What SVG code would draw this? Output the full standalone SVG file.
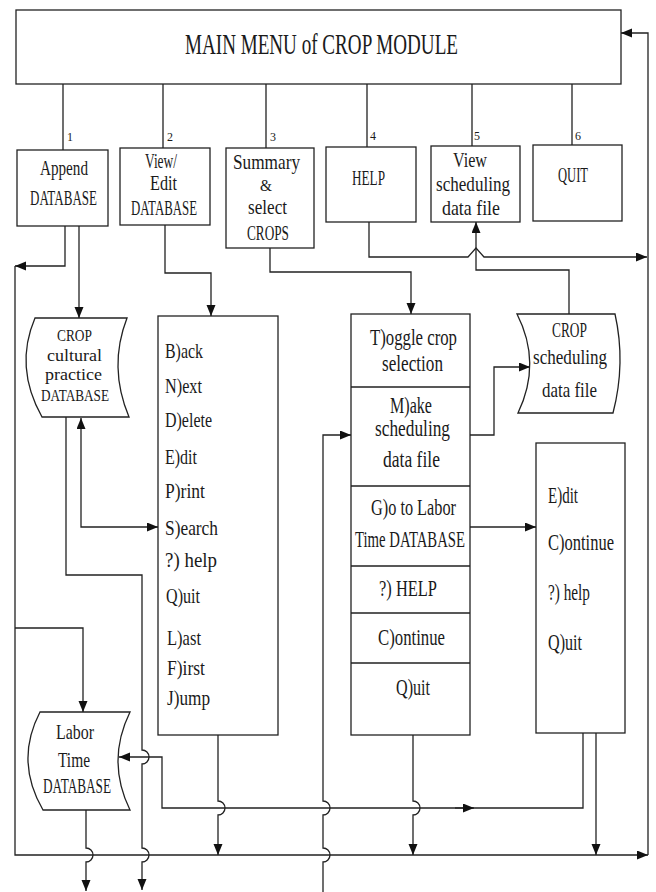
<svg xmlns="http://www.w3.org/2000/svg" width="656" height="892" viewBox="0 0 656 892">
<style>
.bx{fill:none;stroke:#222;stroke-width:1.3}
.ln{fill:none;stroke:#222;stroke-width:1.3}
.t{font-family:"Liberation Serif","Times New Roman",serif;fill:#1a1a1a}
.n{font-family:"Liberation Serif",serif;font-size:12px;fill:#1a1a1a}
.b{font-size:22px}
.e{font-size:20px}
.m{font-size:21px}
.g{font-size:23px}
.d{font-size:21px}
.c{font-size:17.5px}
.a{marker-end:url(#ah)}
</style>
<defs>
<marker id="ah" markerUnits="userSpaceOnUse" markerWidth="12" markerHeight="10" refX="11" refY="4.5" orient="auto-start-reverse" viewBox="0 0 12 10">
<path d="M0,0 L11,4.5 L0,9 z" fill="#111"/>
</marker>
</defs>
<rect x="0" y="0" width="656" height="892" fill="#fff"/>

<g id="main-menu">
<rect class="bx" x="16" y="10" width="605" height="74"/>
<text class="t" x="185" y="54" font-size="29" textLength="273" lengthAdjust="spacingAndGlyphs">MAIN MENU of CROP MODULE</text>
</g>

<g id="append">
<rect class="bx" x="17" y="150" width="91" height="76"/>
<text class="t b" x="40" y="175" textLength="48" lengthAdjust="spacingAndGlyphs">Append</text>
<text class="t b" x="30" y="205" textLength="67" lengthAdjust="spacingAndGlyphs">DATABASE</text>
</g>

<g id="view-edit">
<rect class="bx" x="120" y="148" width="90" height="77"/>
<text class="t e" x="145" y="168" textLength="32" lengthAdjust="spacingAndGlyphs">View/</text>
<text class="t e" x="150" y="190" textLength="27" lengthAdjust="spacingAndGlyphs">Edit</text>
<text class="t e" x="131" y="215" textLength="66" lengthAdjust="spacingAndGlyphs">DATABASE</text>
</g>

<g id="summary">
<rect class="bx" x="226" y="148" width="88" height="100"/>
<text class="t b" x="233" y="169" textLength="67" lengthAdjust="spacingAndGlyphs">Summary</text>
<text class="t" x="260" y="191" font-size="16" textLength="12" lengthAdjust="spacingAndGlyphs">&amp;</text>
<text class="t b" x="248" y="214" textLength="39" lengthAdjust="spacingAndGlyphs">select</text>
<text class="t b" x="247" y="240" textLength="42" lengthAdjust="spacingAndGlyphs">CROPS</text>
</g>

<g id="help">
<rect class="bx" x="326" y="147" width="90" height="75"/>
<text class="t b" x="352" y="185" textLength="33" lengthAdjust="spacingAndGlyphs">HELP</text>
</g>

<g id="view-scheduling">
<rect class="bx" x="431" y="146" width="89" height="76"/>
<text class="t b" x="453" y="167" textLength="34" lengthAdjust="spacingAndGlyphs">View</text>
<text class="t b" x="436" y="191" textLength="74" lengthAdjust="spacingAndGlyphs">scheduling</text>
<text class="t b" x="442" y="215" textLength="58" lengthAdjust="spacingAndGlyphs">data file</text>
</g>

<g id="quit">
<rect class="bx" x="533" y="145" width="89" height="76"/>
<text class="t b" x="558" y="182" textLength="30" lengthAdjust="spacingAndGlyphs">QUIT</text>
</g>

<g id="labels">
<text class="n" x="67" y="141">1</text>
<text class="n" x="167" y="141">2</text>
<text class="n" x="270" y="141">3</text>
<text class="n" x="370" y="140">4</text>
<text class="n" x="474" y="140">5</text>
<text class="n" x="575" y="140">6</text>
</g>

<g id="crop-cultural-db">
<path class="bx" d="M35 318 H127 Q108 367 129 417 H42 Q14 367 35 318 Z"/>
<text class="t c" x="57" y="341" textLength="35" lengthAdjust="spacingAndGlyphs">CROP</text>
<text class="t c" x="47" y="361" textLength="55" lengthAdjust="spacingAndGlyphs">cultural</text>
<text class="t c" x="45" y="380" textLength="57" lengthAdjust="spacingAndGlyphs">practice</text>
<text class="t c" x="41" y="401" textLength="68" lengthAdjust="spacingAndGlyphs">DATABASE</text>
</g>

<g id="view-edit-menu">
<rect class="bx" x="158" y="316" width="120" height="419"/>
<text class="t m" x="165" y="358" textLength="38" lengthAdjust="spacingAndGlyphs">B)ack</text>
<text class="t m" x="165" y="393" textLength="37" lengthAdjust="spacingAndGlyphs">N)ext</text>
<text class="t m" x="165" y="427" textLength="47" lengthAdjust="spacingAndGlyphs">D)elete</text>
<text class="t m" x="165" y="464" textLength="32" lengthAdjust="spacingAndGlyphs">E)dit</text>
<text class="t m" x="165" y="498" textLength="40" lengthAdjust="spacingAndGlyphs">P)rint</text>
<text class="t m" x="165" y="535" textLength="53" lengthAdjust="spacingAndGlyphs">S)earch</text>
<text class="t m" x="165" y="567" textLength="52" lengthAdjust="spacingAndGlyphs">?)  help</text>
<text class="t m" x="166" y="603" textLength="34" lengthAdjust="spacingAndGlyphs">Q)uit</text>
<text class="t m" x="167" y="645" textLength="34" lengthAdjust="spacingAndGlyphs">L)ast</text>
<text class="t m" x="167" y="675" textLength="38" lengthAdjust="spacingAndGlyphs">F)irst</text>
<text class="t m" x="167" y="705" textLength="43" lengthAdjust="spacingAndGlyphs">J)ump</text>
</g>

<g id="toggle-menu">
<rect class="bx" x="351" y="314" width="119" height="421"/>
<path class="ln" d="M351 387 H470 M351 486 H470 M351 566 H470 M351 613 H470 M351 663 H470"/>
<text class="t g" x="370" y="345" textLength="87" lengthAdjust="spacingAndGlyphs">T)oggle crop</text>
<text class="t g" x="382" y="371" textLength="61" lengthAdjust="spacingAndGlyphs">selection</text>
<text class="t g" x="390" y="413" textLength="42" lengthAdjust="spacingAndGlyphs">M)ake</text>
<text class="t g" x="375" y="436" textLength="75" lengthAdjust="spacingAndGlyphs">scheduling</text>
<text class="t g" x="383" y="467" textLength="57" lengthAdjust="spacingAndGlyphs">data file</text>
<text class="t g" x="371" y="515" textLength="85" lengthAdjust="spacingAndGlyphs">G)o to Labor</text>
<text class="t g" x="355" y="547" textLength="110" lengthAdjust="spacingAndGlyphs">Time DATABASE</text>
<text class="t g" x="379" y="596" textLength="58" lengthAdjust="spacingAndGlyphs">?)  HELP</text>
<text class="t g" x="378" y="645" textLength="67" lengthAdjust="spacingAndGlyphs">C)ontinue</text>
<text class="t g" x="396" y="695" textLength="34" lengthAdjust="spacingAndGlyphs">Q)uit</text>
</g>

<g id="crop-scheduling-file">
<path class="bx" d="M517 314 H615 Q626 363 613 413 H518 Q542 363 517 314 Z"/>
<text class="t d" x="552" y="337" textLength="35" lengthAdjust="spacingAndGlyphs">CROP</text>
<text class="t d" x="533" y="364" textLength="74" lengthAdjust="spacingAndGlyphs">scheduling</text>
<text class="t d" x="542" y="397" textLength="55" lengthAdjust="spacingAndGlyphs">data file</text>
</g>

<g id="edit-menu">
<rect class="bx" x="536" y="443" width="89" height="290"/>
<text class="t g" x="548" y="503" textLength="30" lengthAdjust="spacingAndGlyphs">E)dit</text>
<text class="t g" x="548" y="550" textLength="66" lengthAdjust="spacingAndGlyphs">C)ontinue</text>
<text class="t g" x="548" y="600" textLength="42" lengthAdjust="spacingAndGlyphs">?)  help</text>
<text class="t g" x="548" y="650" textLength="34" lengthAdjust="spacingAndGlyphs">Q)uit</text>
</g>

<g id="labor-db">
<path class="bx" d="M40 712 H130 Q106 761 130 810 H43 Q14.5 761 40 712 Z"/>
<text class="t d" x="56" y="739" textLength="38" lengthAdjust="spacingAndGlyphs">Labor</text>
<text class="t d" x="58" y="767" textLength="32" lengthAdjust="spacingAndGlyphs">Time</text>
<text class="t d" x="43" y="793" textLength="68" lengthAdjust="spacingAndGlyphs">DATABASE</text>
</g>

<g id="connectors">
<path class="ln" d="M63 84 V150 M163 84 V148 M266 84 V148 M367 84 V147 M472 84 V146 M572 84 V145"/>
<path class="ln a" d="M65 226 V266 H15"/>
<path class="ln a" d="M15 266 V855 H648"/>
<path class="ln a" d="M648 855 V33 H621"/>
<path class="ln a" d="M79 226 V318"/>
<path class="ln a" d="M15 628 H83 V712"/>
<path class="ln a" d="M165 225 V273 H211 V316"/>
<path class="ln a" d="M270 248 V272 H411 V314"/>
<path class="ln a" d="M369 222 V257 H468 L476 248 L484 257 H647"/>
<path class="ln a" d="M569 314 V270 H476 V222"/>
<path class="ln" d="M81 418 V527 H158" marker-start="url(#ah)" marker-end="url(#ah)"/>
<path class="ln a" d="M66 417 V575 H142 V750 A7 7 0 0 1 142 764 V848 A7 7 0 0 1 142 862 V890"/>
<path class="ln a" d="M323 892 V862 A7 7 0 0 0 323 848 V815 A7 7 0 0 0 323 801 V435 H351"/>
<path class="ln a" d="M470 435 H494 V367 H530"/>
<path class="ln a" d="M470 527 H536"/>
<path class="ln a" d="M583 733 V808 H162 V757 H119"/>
<path class="ln a" d="M455 808 H474"/>
<path class="ln a" d="M218 735 V801 A7 7 0 0 1 218 815 V855"/>
<path class="ln a" d="M413 735 V801 A7 7 0 0 1 413 815 V855"/>
<path class="ln a" d="M596 733 V855"/>
<path class="ln a" d="M86 810 V848 A7 7 0 0 1 86 862 V891"/>
</g>
</svg>
